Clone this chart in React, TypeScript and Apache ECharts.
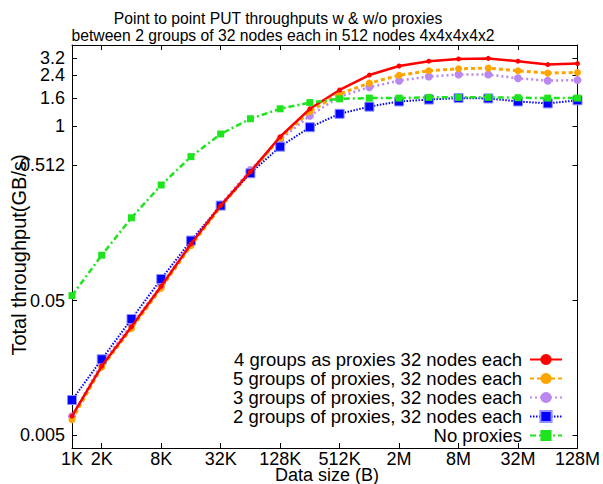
import React, { useEffect, useRef } from "react";
import * as echarts from "echarts";

const sizes = ["1K","2K","4K","8K","16K","32K","64K","128K","256K","512K","1M","2M","4M","8M","16M","32M","64M","128M"];
const shownX = ["1K","2K","8K","32K","128K","512K","2M","8M","32M","128M"];
const yTicks = [0.005, 0.05, 0.512, 1, 1.6, 2.4, 3.2];
const yTickLabels = ["0.005", "0.05", "0.512", "1", "1.6", "2.4", "3.2"];

const fourGroups = [0.0069, 0.0163, 0.032, 0.064, 0.132, 0.255, 0.456, 0.83, 1.34, 1.85, 2.39, 2.79, 3.03, 3.15, 3.18, 3.03, 2.86, 2.91];
const fiveGroups = [0.0065, 0.016, 0.031, 0.062, 0.128, 0.25, 0.45, 0.81, 1.28, 1.73, 2.08, 2.38, 2.57, 2.66, 2.69, 2.57, 2.47, 2.5];
const threeGroups = [0.0069, 0.017, 0.033, 0.065, 0.134, 0.26, 0.47, 0.79, 1.19, 1.65, 1.94, 2.17, 2.33, 2.41, 2.41, 2.26, 2.17, 2.19];
const twoGroups = [0.0091, 0.0183, 0.0365, 0.0725, 0.14, 0.255, 0.444, 0.7, 0.977, 1.23, 1.39, 1.52, 1.57, 1.61, 1.6, 1.52, 1.47, 1.55];
const noProxies = [0.0545, 0.109, 0.207, 0.363, 0.59, 0.87, 1.13, 1.34, 1.49, 1.59, 1.61, 1.61, 1.63, 1.63, 1.63, 1.62, 1.61, 1.61];

const seriesNames = [
  "4 groups as proxies 32 nodes each",
  "5 groups of proxies, 32 nodes each",
  "3 groups of proxies, 32 nodes each",
  "2 groups of proxies, 32 nodes each",
  "No proxies",
];

const FONT = "Liberation Sans, Arial, Helvetica, sans-serif";

export default function App() {
  const ref = useRef<HTMLDivElement>(null);
  useEffect(() => {
    if (!ref.current) return;
    const chart = echarts.init(ref.current, null, { renderer: "svg" });
    const showIdx = (i: number) => shownX.indexOf(sizes[i]) >= 0;
    const yLabelFmt = (v: number) => {
      let best = 0;
      let bd = Infinity;
      yTicks.forEach((t, i) => {
        const d = Math.abs(Math.log(t) - Math.log(v));
        if (d < bd) { bd = d; best = i; }
      });
      return yTickLabels[best];
    };
    // Labels are split over two overlaid left axes so that neighbouring labels are not auto-hidden.
    const labelsA = yTicks.filter((_, i) => i % 2 === 0);
    const labelsB = yTicks.filter((_, i) => i % 2 === 1);
    const axisLine = { show: true, lineStyle: { color: "#000", width: 1 } };
    const labelStyle = { formatter: yLabelFmt, fontSize: 18, color: "#000", margin: 7, fontFamily: FONT, hideOverlap: false };
    const logAxisBase = { type: "log", logBase: 10, min: 0.004, max: 4, splitLine: { show: false }, minorTick: { show: false } };
    const mk = (name: string, data: number[], color: string, lineType: any, width: number, symbol: string, symbolSize: number, extra: any = {}) => ({
      name,
      type: "line",
      data,
      xAxisIndex: 0,
      yAxisIndex: 0,
      symbol,
      symbolSize,
      showSymbol: true,
      itemStyle: { color, ...(extra.itemStyle || {}) },
      lineStyle: { color, width, type: lineType },
      z: extra.z || 2,
    });
    chart.setOption({
      animation: false,
      backgroundColor: "#fff",
      textStyle: { fontFamily: FONT },
      grid: { left: 72, right: 21, top: 45, bottom: 36, containLabel: false },
      graphic: [
        { type: "text", x: 278, y: 18, style: { text: "Point to point PUT throughputs w & w/o proxies", font: `15.7px ${FONT}`, fill: "#000", textAlign: "center", textVerticalAlign: "middle" } },
        { type: "text", x: 283, y: 35, style: { text: "between 2 groups of 32 nodes each in 512 nodes 4x4x4x4x2", font: `15.7px ${FONT}`, fill: "#000", textAlign: "center", textVerticalAlign: "middle" } },
        { type: "text", x: 19, y: 255, rotation: Math.PI / 2, style: { text: "Total throughput(GB/s)", font: `20px ${FONT}`, fill: "#000", textAlign: "center", textVerticalAlign: "middle" } },
        { type: "text", x: 327, y: 475, style: { text: "Data size (B)", font: `18px ${FONT}`, fill: "#000", textAlign: "center", textVerticalAlign: "middle" } },
      ],
      legend: {
        orient: "vertical",
        align: "right",
        right: 35,
        top: 345,
        itemWidth: 32,
        itemHeight: 14,
        itemGap: 0,
        textStyle: { fontSize: 18.5, lineHeight: 19, color: "#000", fontFamily: FONT, padding: [0, 3, 0, 0] },
        data: seriesNames,
      },
      xAxis: [
        {
          type: "category",
          data: sizes,
          boundaryGap: false,
          axisLine,
          axisTick: { show: true, inside: true, length: 5, interval: (i: number) => showIdx(i), lineStyle: { color: "#000" } },
          axisLabel: { interval: (i: number) => showIdx(i), fontSize: 18, lineHeight: 18, color: "#000", margin: 2, fontFamily: FONT },
          splitLine: { show: false },
        },
        {
          type: "category",
          data: sizes,
          position: "top",
          boundaryGap: false,
          axisLine,
          axisTick: { show: true, inside: true, length: 5, interval: (i: number) => showIdx(i), lineStyle: { color: "#000" } },
          axisLabel: { show: false },
          splitLine: { show: false },
        },
      ],
      yAxis: [
        {
          ...logAxisBase,
          position: "left",
          axisLine,
          axisTick: { show: true, inside: true, length: 5, customValues: yTicks, lineStyle: { color: "#000" } },
          axisLabel: { ...labelStyle, customValues: labelsA },
        },
        {
          ...logAxisBase,
          position: "right",
          axisLine,
          axisTick: { show: true, inside: true, length: 5, customValues: yTicks, lineStyle: { color: "#000" } },
          axisLabel: { show: false },
        },
        {
          ...logAxisBase,
          position: "left",
          offset: 0,
          axisLine: { show: false },
          axisTick: { show: false },
          axisLabel: { ...labelStyle, customValues: labelsB },
        },
      ],
      series: [
        mk(seriesNames[0], fourGroups, "#ff0000", "solid", 2.5, "circle", 5, { z: 5 }),
        mk(seriesNames[1], fiveGroups, "#ffa500", [4, 3], 3, "circle", 7, { z: 3 }),
        mk(seriesNames[2], threeGroups, "#bb88f2", [2, 3], 2.5, "circle", 8, { z: 2 }),
        mk(seriesNames[3], twoGroups, "#0000ff", [1.5, 1.5], 2, "rect", 9, { z: 4, itemStyle: { borderColor: "#8f8fff", borderWidth: 1 } }),
        mk(seriesNames[4], noProxies, "#1ee41e", [6, 3, 2, 3], 2.5, "rect", 7, { z: 6 }),
      ],
    });
    return () => chart.dispose();
  }, []);
  return <div ref={ref} style={{ width: 603, height: 484, position: "absolute", left: 0, top: 0 }} />;
}
